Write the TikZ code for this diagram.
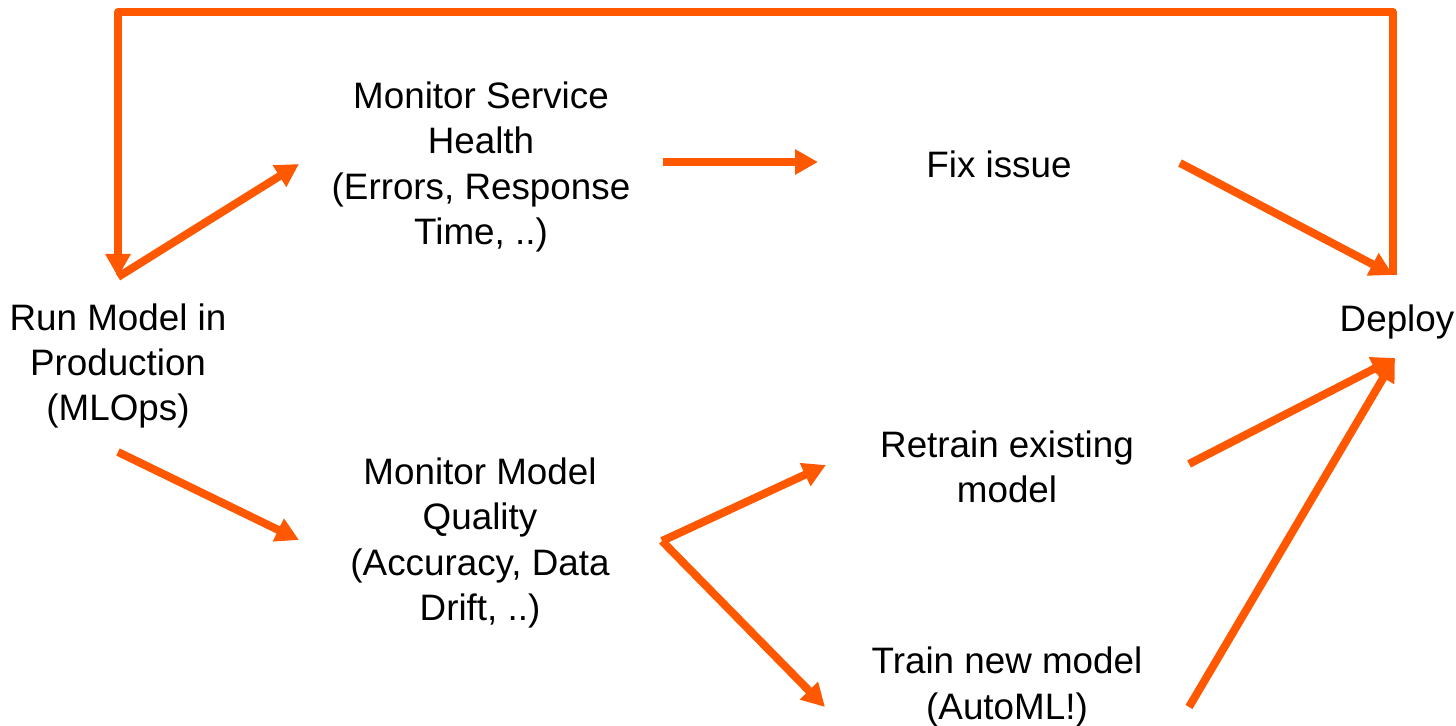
\documentclass[tikz,border=0pt]{standalone}
\usepackage{fontspec}
\setmainfont{Liberation Sans}
\usetikzlibrary{arrows.meta}
\definecolor{mlorange}{RGB}{255,88,0}

\tikzset{every picture/.style={line width=0.75pt}}
\tikzset{
  lbl/.style={align=center, font=\fontsize{18.4}{22.6}\selectfont, inner sep=0.75pt},
  flow/.style={color=mlorange, line width=4pt, line join=round, -{Triangle[length=11.5pt,width=12pt]}},
}

\begin{document}
\begin{tikzpicture}[x=0.5pt,y=0.5pt,yscale=-1,xscale=1]
\useasboundingbox (0,0) rectangle (1456,726);

% Text Nodes
\node [lbl] (run)  at (118,366)  {Run Model in\\Production\\(MLOps)};
\node [lbl] (svc)  at (481,167)  {Monitor Service\\Health\\(Errors, Response\\Time, ..)};
\node [lbl] (fix)  at (999,164)  {Fix issue};
\node [lbl] (dep)  at (1397,322) {Deploy};
\node [lbl] (qual) at (480,543)  {Monitor Model\\Quality\\(Accuracy, Data\\Drift, ..)};
\node [lbl] (ret)  at (1007,467) {Retrain existing\\model};
\node [lbl] (new)  at (1007,687) {Train new model\\(AutoML!)};

% arrow ends
\coordinate (run-top)  at (118,277);
\coordinate (run-bot)  at (118,452);
\coordinate (svc-in)   at (299,164);
\coordinate (svc-out)  at (663,162);
\coordinate (fix-in)   at (818,162);
\coordinate (fix-out)  at (1180,163);
\coordinate (dep-top)  at (1393,275);
\coordinate (dep-bot)  at (1395,358);
\coordinate (qual-in)  at (299,540);
\coordinate (qual-out) at (662,541);
\coordinate (ret-in)   at (826,465);
\coordinate (ret-out)  at (1189,464);
\coordinate (new-in)   at (825,707);
\coordinate (new-out)  at (1189,707);

% loop back
\draw [flow] (dep-top) -- ++(0,-263) -| (run-top);

% Straight Lines
\draw [flow] (run-top) -- (svc-in);
\draw [flow] (svc-out) -- (fix-in);
\draw [flow] (fix-out) -- (dep-top);
\draw [flow] (run-bot) -- (qual-in);
\draw [flow] (qual-out) -- (ret-in);
\draw [flow] (qual-out) -- (new-in);
\draw [flow] (ret-out) -- (dep-bot);
\draw [flow] (new-out) -- (dep-bot);

\end{tikzpicture}
\end{document}
